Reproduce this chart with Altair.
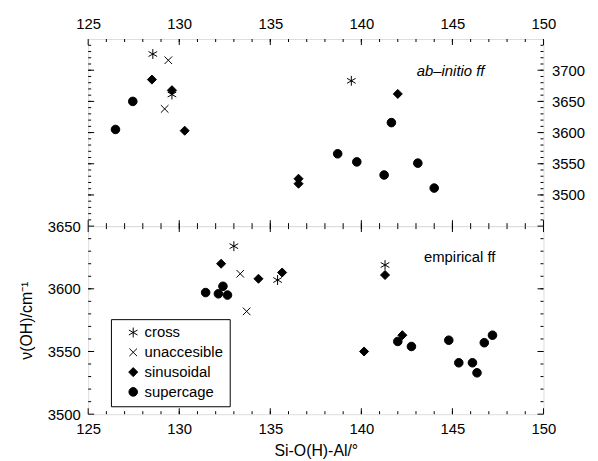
import altair as alt
import pandas as pd

categories = ["cross", "unaccesible", "sinusoidal", "supercage"]

# ab-initio force field (top panel)
top_x = [128.55, 129.6, 139.45,
         129.4, 129.2,
         128.5, 129.6, 130.3, 136.55, 136.55, 142.0,
         127.45, 126.5, 138.7, 139.75, 141.65, 141.25, 143.1, 144.0]
top_y = [3726, 3661, 3683,
         3716, 3638,
         3685, 3668, 3603, 3526, 3518, 3662,
         3650, 3605, 3566, 3553, 3616, 3532, 3551, 3511]
top_type = ["cross"] * 3 + ["unaccesible"] * 2 + ["sinusoidal"] * 6 + ["supercage"] * 8

# empirical force field (bottom panel)
bot_x = [133.0, 135.4, 141.3,
         133.35, 133.7,
         132.3, 134.35, 135.65, 141.3, 140.15, 142.25,
         131.45, 132.15, 132.4, 132.65, 142.0, 142.75, 144.8, 145.35, 146.1, 146.35, 146.75, 147.2]
bot_y = [3634, 3607, 3619,
         3612, 3582,
         3620, 3608, 3613, 3611, 3550, 3563,
         3597, 3596, 3602, 3595, 3558, 3554, 3559, 3541, 3541, 3533, 3557, 3563]
bot_type = ["cross"] * 3 + ["unaccesible"] * 2 + ["sinusoidal"] * 6 + ["supercage"] * 12

x_domain = [125, 150]
x_major = [125, 130, 135, 140, 145, 150]
x_minor = list(range(126, 150))
top_domain = [3450, 3750]
top_y_major = [3500, 3550, 3600, 3650, 3700]
top_y_minor = list(range(3460, 3750, 10))
bot_domain = [3500, 3650]
bot_y_major = [3500, 3550, 3600, 3650]
bot_y_minor = list(range(3510, 3650, 10))

ASTERISK = "M0,-1L0,1M-0.87,-0.5L0.87,0.5M-0.87,0.5L0.87,-0.5"
XMARK = "M-0.8,-0.8L0.8,0.8M-0.8,0.8L0.8,-0.8"
shape_range = [ASTERISK, XMARK, "diamond", "circle"]
size_range = [100, 75, 85, 130]

FONT = "Liberation Sans"
W = 460
MAJ, MIN = 6, 3  # tick lengths in px


def main_axis(orient, values, title=None, pad=8):
    kw = dict(orient=orient, values=values, ticks=False, domain=False, grid=False,
              labelFont=FONT, labelFontSize=15, labelColor="black", labelPadding=8,
              format="d", labelFlush=False, labelOverlap=False)
    if title is not None:
        kw.update(title=title, titleFont=FONT, titleFontSize=16, titleFontWeight="normal",
                  titleColor="black", titlePadding=pad)
    else:
        kw.update(title=None)
    return alt.Axis(**kw)


def panel(xs, ys, ts, ydomain, H, xa, ya, majors, minors, note, note_x, note_y, italic, legend):
    df = pd.DataFrame({"x": xs, "y": ys, "type": ts})
    xsc = alt.Scale(domain=x_domain, nice=False, zero=False)
    ysc = alt.Scale(domain=ydomain, nice=False, zero=False)
    cat = alt.Scale(domain=categories, range=["black"] * 4)

    pts = alt.Chart(df).mark_point(strokeWidth=1, opacity=1).encode(
        x=alt.X("x:Q", scale=xsc, axis=xa),
        y=alt.Y("y:Q", scale=ysc, axis=ya),
        shape=alt.Shape("type:N", scale=alt.Scale(domain=categories, range=shape_range), legend=legend),
        size=alt.Size("type:N", scale=alt.Scale(domain=categories, range=size_range), legend=legend),
        fill=alt.Fill("type:N", scale=cat, legend=legend),
        stroke=alt.Stroke("type:N", scale=cat, legend=legend),
    )
    layers = [pts]

    # inward tick marks on all four sides, placed at the tick values through the scales
    for vals, ln in ((x_major, MAJ), (x_minor, MIN)):
        d = pd.DataFrame({"v": vals})
        for y0, y1 in ((0, ln), (H, H - ln)):
            layers.append(alt.Chart(d).mark_rule(color="black", strokeWidth=1).encode(
                x=alt.X("v:Q", scale=xsc, axis=None), y=alt.value(y0), y2=alt.value(y1)))
    for vals, ln in ((majors, MAJ), (minors, MIN)):
        d = pd.DataFrame({"v": vals})
        for x0, x1 in ((0, ln), (W, W - ln)):
            layers.append(alt.Chart(d).mark_rule(color="black", strokeWidth=1).encode(
                y=alt.Y("v:Q", scale=ysc, axis=None), x=alt.value(x0), x2=alt.value(x1)))

    ndf = pd.DataFrame({"x": [note_x], "y": [note_y], "t": [note]})
    layers.append(alt.Chart(ndf).mark_text(font=FONT, fontSize=15,
                                           fontStyle="italic" if italic else "normal",
                                           align="center", baseline="middle", color="black").encode(
        x=alt.X("x:Q", scale=xsc, axis=None), y=alt.Y("y:Q", scale=ysc, axis=None), text="t:N"))
    return alt.layer(*layers).resolve_axis(x="independent", y="independent").properties(width=W, height=H)


legend = alt.Legend(orient="none", legendX=23, legendY=94, title=None, strokeColor="black",
                    fillColor="white", padding=6, labelFont=FONT, labelFontSize=15, labelColor="black",
                    symbolStrokeWidth=1, symbolOpacity=1, rowPadding=4, labelOffset=4,
                    symbolOffset=9)

top = panel(top_x, top_y, top_type, top_domain, 189,
            main_axis("top", x_major), main_axis("right", top_y_major),
            top_y_major, top_y_minor, "ab–initio ff", 144.9, 3699, True, None)
bottom = panel(bot_x, bot_y, bot_type, bot_domain, 190,
               main_axis("bottom", x_major, "Si-O(H)-Al/°", 6),
               main_axis("left", bot_y_major, "ν(OH)/cm⁻¹", 13),
               bot_y_major, bot_y_minor, "empirical ff", 145.4, 3625, False, legend)

chart = alt.vconcat(top, bottom, spacing=0, bounds="flush").resolve_scale(
    x="independent", y="independent", shape="independent", size="independent",
    fill="independent", stroke="independent"
).properties(padding={"left": 10, "top": 5, "right": 5, "bottom": 5}
).configure_view(stroke="black", strokeWidth=1).configure(background="white")

chart.save("out.html", embed_options={"renderer": "svg", "actions": False})
